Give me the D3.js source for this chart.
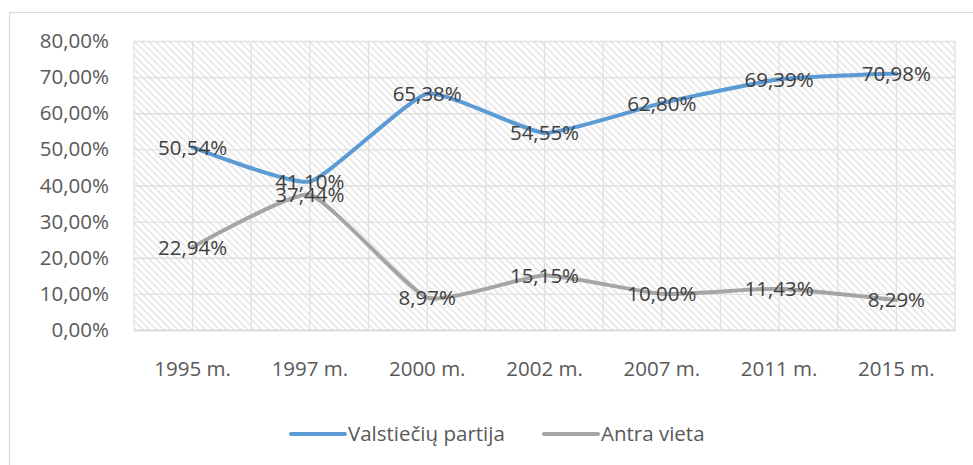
<!DOCTYPE html>
<html>
<head>
<meta charset="utf-8">
<script src="https://cdn.jsdelivr.net/npm/d3@7"></script>
<style>
  body { margin: 0; background: #fff; }
  svg text { font-family: "Open Sans", "Noto Sans", sans-serif; }
</style>
</head>
<body>
<div id="chart-area"></div>
<script>
const years = ["1995 m.", "1997 m.", "2000 m.", "2002 m.", "2007 m.", "2011 m.", "2015 m."]
const valstieciai = [50.54, 41.10, 65.38, 54.55, 62.80, 69.39, 70.98]
const antraVieta = [22.94, 37.44, 8.97, 15.15, 10.00, 11.43, 8.29]
const yTicks = [0, 10, 20, 30, 40, 50, 60, 70, 80]
const seriesNames = ["Valstiečių partija", "Antra vieta"]

const W = 973, H = 465
const MARGIN = { LEFT: 134, RIGHT: 18, TOP: 41, BOTTOM: 135 }
const WIDTH = W - MARGIN.LEFT - MARGIN.RIGHT
const HEIGHT = H - MARGIN.TOP - MARGIN.BOTTOM
const FONT = "20.5px"

const fmt = v => v.toFixed(2).replace(".", ",") + "%"

const svg = d3.select("#chart-area").append("svg")
  .attr("width", W)
  .attr("height", H)

// hatch pattern for plot area
const defs = svg.append("defs")
const pat = defs.append("pattern")
  .attr("id", "hatch")
  .attr("patternUnits", "userSpaceOnUse")
  .attr("width", 7)
  .attr("height", 7)
pat.append("rect").attr("width", 7).attr("height", 7).attr("fill", "#fff")
pat.append("path")
  .attr("d", "M-1,-1 L8,8 M-1,6 L1,8 M6,-1 L8,1")
  .attr("stroke", "#e9e9e9")
  .attr("stroke-width", 1.8)

// chart border
svg.append("rect")
  .attr("x", 9.5).attr("y", 12.5)
  .attr("width", W + 20).attr("height", H + 20)
  .attr("fill", "none")
  .attr("stroke", "#d9d9d9")
  .attr("stroke-width", 1.2)

const g = svg.append("g")
  .attr("transform", `translate(${MARGIN.LEFT}, ${MARGIN.TOP})`)

const x = d3.scaleBand()
  .domain(years)
  .range([0, WIDTH])

const y = d3.scaleLinear()
  .domain([0, 80])
  .range([HEIGHT, 0])

g.append("rect")
  .attr("width", WIDTH)
  .attr("height", HEIGHT)
  .attr("fill", "url(#hatch)")

// vertical gridlines at band edges and centres
const vLines = []
years.forEach(d => { vLines.push(x(d)); vLines.push(x(d) + x.bandwidth() / 2) })
vLines.push(WIDTH)
g.selectAll(".vgrid")
  .data(vLines)
  .enter().append("line")
  .attr("x1", d => d).attr("x2", d => d)
  .attr("y1", 0).attr("y2", HEIGHT)
  .attr("stroke", "#e0e0e0")
  .attr("stroke-width", 1.3)

// Y axis with gridlines
const yAxisCall = d3.axisLeft(y)
  .tickValues(yTicks)
  .tickSize(-WIDTH)
  .tickPadding(25)
  .tickFormat(d => fmt(d))
const yAxis = g.append("g").call(yAxisCall)
yAxis.select(".domain").remove()
yAxis.selectAll("line").attr("stroke", "#e0e0e0").attr("stroke-width", 1.3)
yAxis.selectAll("text")
  .attr("fill", "#595959")
  .style("font-size", FONT)

// X axis
const xAxisCall = d3.axisBottom(x).tickSize(0).tickPadding(31)
const xAxis = g.append("g")
  .attr("transform", `translate(0, ${HEIGHT})`)
  .call(xAxisCall)
xAxis.select(".domain").attr("stroke", "#d9d9d9").attr("stroke-width", 1.5)
xAxis.selectAll("text")
  .attr("fill", "#595959")
  .style("font-size", FONT)

const cx = d => x(d) + x.bandwidth() / 2
const series = [
  { name: seriesNames[0], values: valstieciai, color: "#5b9bd5" },
  { name: seriesNames[1], values: antraVieta, color: "#a5a5a5" }
]

const line = d3.line()
  .x((d, i) => cx(years[i]))
  .y(d => y(d))
  .curve(d3.curveCardinal.tension(0.55))

series.slice().reverse().forEach(s => {
  g.append("path")
    .attr("d", line(s.values))
    .attr("fill", "none")
    .attr("stroke", s.color)
    .attr("stroke-width", 4)
    .attr("stroke-linecap", "round")
    .attr("stroke-linejoin", "round")
})

// data labels centred on points
series.forEach(s => {
  g.selectAll(null)
    .data(s.values)
    .enter().append("text")
    .attr("x", (d, i) => cx(years[i]))
    .attr("y", d => y(d))
    .attr("dy", "0.36em")
    .attr("text-anchor", "middle")
    .attr("fill", "#404040")
    .style("font-size", FONT)
    .text(d => fmt(d))
})

// legend
const legend = svg.append("g").attr("transform", "translate(291, 434)")
const legendX = [0, 253]
series.forEach((s, i) => {
  const lg = legend.append("g").attr("transform", `translate(${legendX[i]}, 0)`)
  lg.append("line")
    .attr("x1", 0).attr("x2", 54)
    .attr("stroke", s.color)
    .attr("stroke-width", 4)
    .attr("stroke-linecap", "round")
  lg.append("text")
    .attr("x", 57)
    .attr("dy", "0.36em")
    .attr("fill", "#595959")
    .style("font-size", FONT)
    .text(s.name)
})
</script>
</body>
</html>
